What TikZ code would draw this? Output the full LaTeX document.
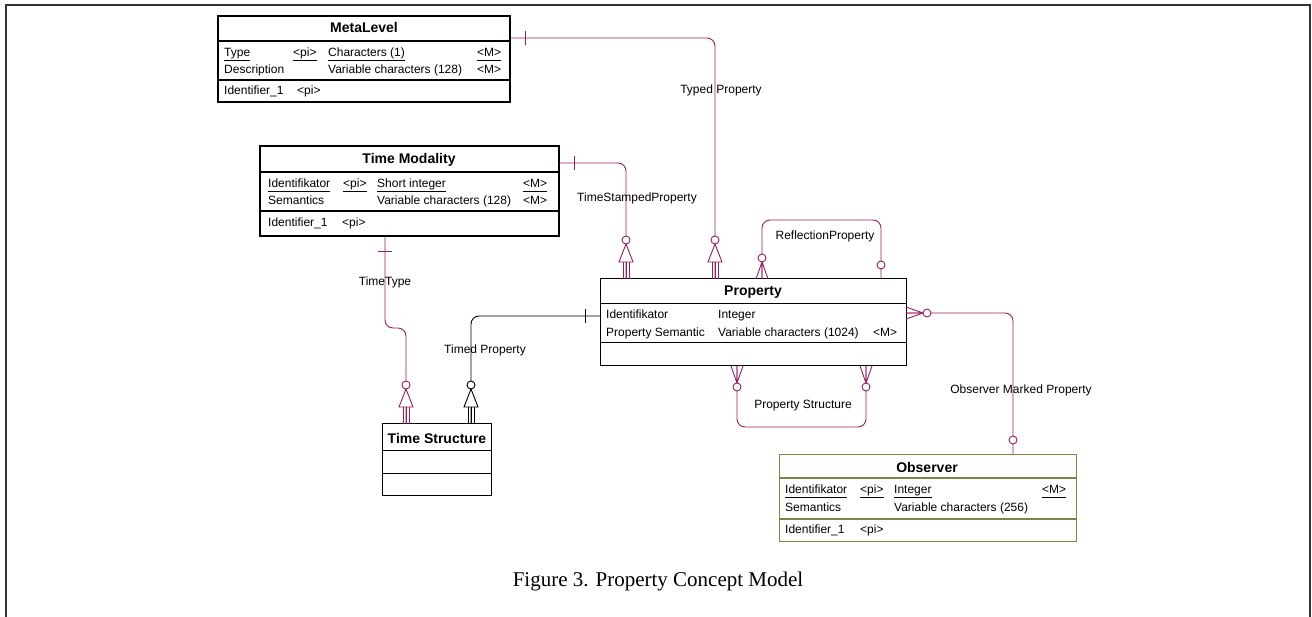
\documentclass[tikz,border=0pt]{standalone}
\usepackage{fontspec}
\setmainfont{Liberation Serif}
\newfontfamily\erfont{Liberation Sans}

\definecolor{relred}{RGB}{150,30,95}
\definecolor{obsolive}{RGB}{130,130,70}
\newcommand{\ulkey}[1]{\underline{#1\vphantom{(}}}

\tikzset{
  entity/.style={draw, rectangle, anchor=north west, inner sep=0pt, outer sep=0pt},
  ttl/.style={inner sep=0pt, font=\erfont\bfseries\fontsize{14}{16}\selectfont},
  attr/.style={anchor=west, inner sep=0pt, yshift=-1.5pt, text height=9pt, text depth=3pt, font=\erfont\fontsize{12}{14}\selectfont},
  lbl/.style={inner sep=0pt, font=\erfont\fontsize{12}{14}\selectfont},
  rel/.style={relred, line width=0.9pt},
  pics/one/.style={code={\draw (-7,-15) -- (7,-15);}},
  pics/opt/.style={code={\draw[fill=white] (0,-14) circle (4pt);}},
  pics/many/.style={code={
    \draw (-6,0) -- (0,-17) (0,0) -- (0,-17) (6,0) -- (0,-17);
    \draw[fill=white] (0,-21) circle (4pt);}},
  pics/isa/.style={code={
    \draw (-3,0) -- (-3,-17) (0,0) -- (0,-17) (3,0) -- (3,-17);
    \draw[fill=white] (-7,-17) -- (7,-17) -- (0,-35) -- cycle;
    \draw[fill=white] (0,-39) circle (4pt);}}
}

\begin{document}
\begin{tikzpicture}[x=1pt,y=-1pt]
\useasboundingbox (0,0) rectangle (1312,617);
% page frame
\draw[line width=1.2pt, black!80] (6,617) -- (6,5) -- (1310,5) -- (1310,617);

% MetaLevel
\node[entity, line width=1.2pt, minimum width=292pt, minimum height=86pt] (meta) at (218,16) {};
\draw[line width=1.5pt] (218,41) -- (510,41);
\draw[line width=1.5pt] (218,80) -- (510,80);
\node[ttl] (metaT) at (364,28) {MetaLevel};
\node[attr] (metaA1) at (224,52) {\ulkey{Type}};
\node[attr] (metaA2) at (293,52) {\ulkey{<pi>}};
\node[attr] (metaA3) at (328,52) {\ulkey{Characters (1)}};
\node[attr] (metaA4) at (477,52) {\ulkey{<M>}};
\node[attr] (metaB1) at (224,69) {Description};
\node[attr] (metaB3) at (328,69) {Variable characters (128)};
\node[attr] (metaB4) at (477,69) {<M>};
\node[attr] (metaI1) at (224,90) {Identifier\_1};
\node[attr] (metaI2) at (297,90) {<pi>};

% Time Modality
\node[entity, line width=2.5pt, minimum width=299pt, minimum height=90pt] (tmod) at (260,146) {};
\draw[line width=2.5pt] (260,172) -- (559,172);
\draw[line width=2.5pt] (260,211) -- (559,211);
\node[ttl] (tmodT) at (409,160) {Time Modality};
\node[attr] (tmodA1) at (268,183) {\ulkey{Identifikator}};
\node[attr] (tmodA2) at (343,183) {\ulkey{<pi>}};
\node[attr] (tmodA3) at (377,183) {\ulkey{Short integer}};
\node[attr] (tmodA4) at (523,183) {\ulkey{<M>}};
\node[attr] (tmodB1) at (268,200) {Semantics};
\node[attr] (tmodB3) at (377,200) {Variable characters (128)};
\node[attr] (tmodB4) at (523,200) {<M>};
\node[attr] (tmodI1) at (268,222) {Identifier\_1};
\node[attr] (tmodI2) at (342,222) {<pi>};

% Property
\node[entity, line width=1pt, minimum width=306pt, minimum height=87pt] (prop) at (600,279) {};
\draw[line width=1pt] (600,304) -- (906,304);
\draw[line width=1pt] (600,343) -- (906,343);
\node[ttl] (propT) at (753,292) {Property};
\node[attr] (propA1) at (606,314) {Identifikator};
\node[attr] (propA3) at (718,314) {Integer};
\node[attr] (propB1) at (606,332) {Property Semantic};
\node[attr] (propB3) at (718,332) {Variable characters (1024)};
\node[attr] (propB4) at (873,332) {<M>};

% Time Structure
\node[entity, line width=1pt, minimum width=109pt, minimum height=71pt] (tstr) at (382,424) {};
\draw[line width=1pt] (382,450) -- (491,450);
\draw[line width=1pt] (382,473) -- (491,473);
\node[ttl] (tstrT) at (437,438) {Time Structure};

% Observer
\node[entity, draw=obsolive, line width=1pt, minimum width=297pt, minimum height=87pt] (obs) at (779,454) {};
\draw[obsolive, line width=1.5pt] (779,478) -- (1076,478);
\draw[obsolive, line width=1.5pt] (779,519) -- (1076,519);
\node[ttl] (obsT) at (927,467) {Observer};
\node[attr] (obsA1) at (785,489) {\ulkey{Identifikator}};
\node[attr] (obsA2) at (860,489) {\ulkey{<pi>}};
\node[attr] (obsA3) at (894,489) {\ulkey{Integer}};
\node[attr] (obsA4) at (1042,489) {\ulkey{<M>}};
\node[attr] (obsB1) at (785,507) {Semantics};
\node[attr] (obsB3) at (894,507) {Variable characters (256)};
\node[attr] (obsI1) at (785,529) {Identifier\_1};
\node[attr] (obsI2) at (860,529) {<pi>};

% Typed Property
\draw[rel, rounded corners=8pt] ([yshift=-22pt]meta.north east) -| ([xshift=115pt]prop.north west);
\pic[rel, rotate=-90] at ([yshift=-22pt]meta.north east) {one};
\pic[rel] at ([xshift=115pt]prop.north west) {isa};
\node[lbl] (typedL) at (721,90) {Typed Property};

% TimeStampedProperty
\draw[rel, rounded corners=8pt] ([yshift=-17pt]tmod.north east) -| ([xshift=26pt]prop.north west);
\pic[rel, rotate=-90] at ([yshift=-17pt]tmod.north east) {one};
\pic[rel] at ([xshift=26pt]prop.north west) {isa};
\node[lbl] (stampL) at (637,198) {TimeStampedProperty};

% ReflectionProperty
\draw[rel, rounded corners=8pt] ([xshift=162pt]prop.north west) -- ++(0,-59) -| ([xshift=281pt]prop.north west);
\pic[rel] at ([xshift=162pt]prop.north west) {many};
\pic[rel] at ([xshift=281pt]prop.north west) {opt};
\node[lbl] (reflL) at (825,236) {ReflectionProperty};

% Property Structure
\draw[rel, rounded corners=8pt] ([xshift=137pt]prop.south west) -- ++(0,61) -| ([xshift=266pt]prop.south west);
\pic[rel, rotate=180] at ([xshift=137pt]prop.south west) {many};
\pic[rel, rotate=180] at ([xshift=266pt]prop.south west) {many};
\node[lbl] (structL) at (803,406) {Property Structure};

% Observer Marked Property
\draw[rel, rounded corners=8pt] ([yshift=-34pt]prop.north east) -| ([xshift=234pt]obs.north west);
\pic[rel, rotate=-90] at ([yshift=-34pt]prop.north east) {many};
\pic[rel] at ([xshift=234pt]obs.north west) {opt};
\node[lbl] (obsL) at (1021,390) {Observer Marked Property};

% TimeType
\draw[rel, rounded corners=8pt] ([xshift=125pt]tmod.south west) -- ++(0,92) -| ([xshift=24pt]tstr.north west);
\pic[rel, rotate=180] at ([xshift=125pt]tmod.south west) {one};
\pic[rel] at ([xshift=24pt]tstr.north west) {isa};
\node[lbl] (typeL) at (385,282) {TimeType};

% Timed Property
\draw[line width=0.9pt, rounded corners=8pt] ([yshift=-37pt]prop.north west) -| ([xshift=89pt]tstr.north west);
\pic[line width=0.9pt, rotate=90] at ([yshift=-37pt]prop.north west) {one};
\pic[line width=0.9pt] at ([xshift=89pt]tstr.north west) {isa};
\node[lbl] (timedL) at (485,350) {Timed Property};

% caption
\node[font=\fontsize{21}{25}\selectfont] (caption) at (658,581) {Figure 3. Property Concept Model};
\end{tikzpicture}
\end{document}
